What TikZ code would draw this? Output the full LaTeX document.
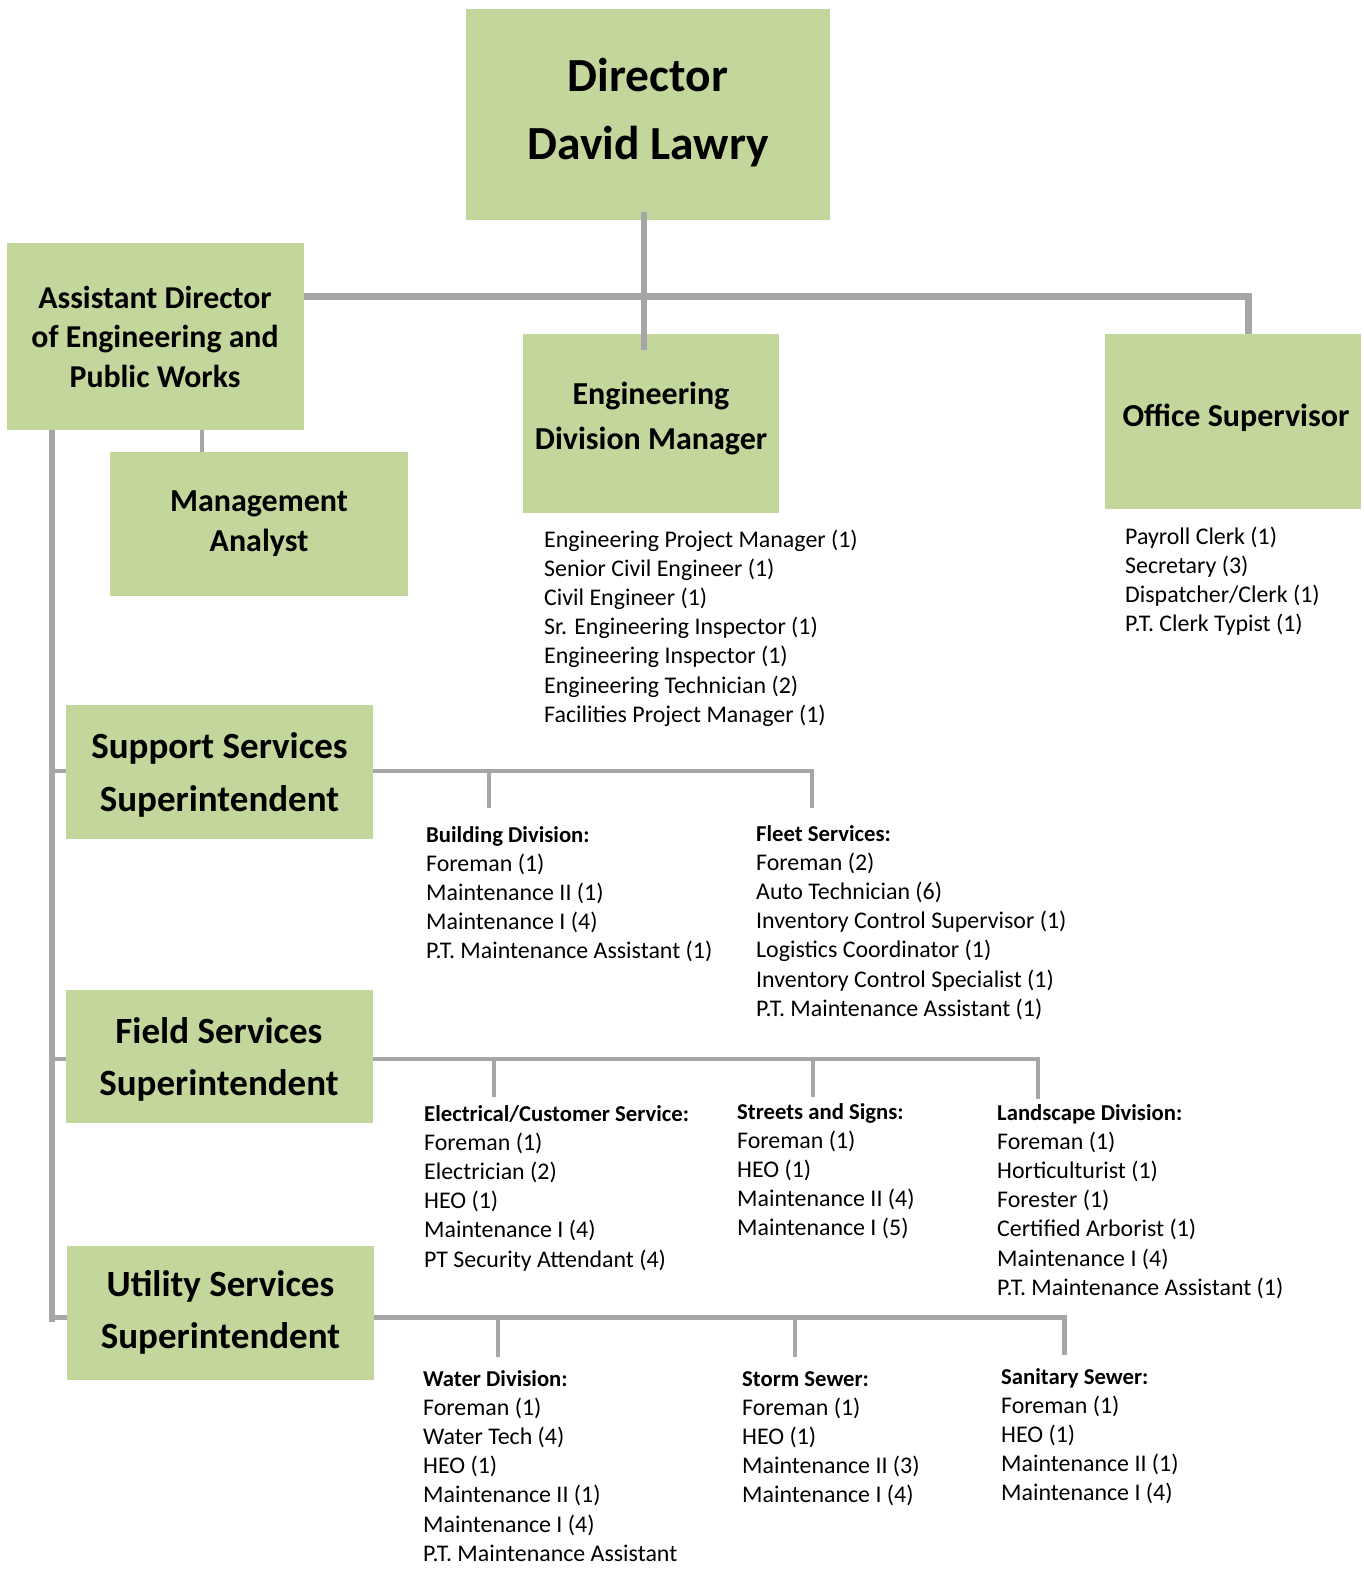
\documentclass[tikz,border=0pt]{standalone}
\usepackage{fontspec}
\setmainfont{Carlito}
\usetikzlibrary{calc}
\definecolor{boxgreen}{HTML}{C3D69B}
\definecolor{linegray}{HTML}{A6A6A6}
\newcommand\orgbox[5]{\node[box, minimum width=#4pt, minimum height=#5pt] (#1) at (#2,#3) {};}
\newcommand\orglist[5]{%
  \node[listhead] (#1h) at (#2,{#3+8}) {#4};
  \foreach \t [count=\i] in {#5} {\node[listtext] (#1\i) at (#2,{#3+8+29.2*\i}) {\t};}}
\newcommand\orgitems[4]{%
  \foreach \t [count=\i] in {#4} {\node[listtext] (#1\i) at (#2,{#3+8+29.2*(\i-1)}) {\t};}}
\begin{document}
\begin{tikzpicture}[x=1pt,y=-1pt,
  box/.style={fill=boxgreen, draw=none, inner sep=0, anchor=north west},
  conn/.style={draw=linegray, line width=4.5pt},
  mainconn/.style={draw=linegray, line width=7pt},
  listtext/.style={font=\fontsize{23.9}{29}\selectfont, anchor=base west, inner sep=0},
  listhead/.style={font=\bfseries\fontsize{22.7}{29}\selectfont, anchor=base west, inner sep=0},
  ttl/.style={align=center, inner sep=0, font=\bfseries\fontsize{32}{40}\selectfont},
  bigttl/.style={align=center, inner sep=0, font=\bfseries\fontsize{37}{52.5}\selectfont}
]
\useasboundingbox (0,0) rectangle (1364,1571);

% coordinates for connector junctions
\coordinate (spEnd) at (52,1322);
\coordinate (sCorner) at (812,771);
\coordinate (sDrop1) at (489,808);
\coordinate (sDrop2) at (812,808);
\coordinate (fCorner) at (1038,1059);
\coordinate (fDrop1) at (494,1097);
\coordinate (fDrop2) at (813,1097);
\coordinate (fDrop3) at (1038,1099);
\coordinate (uCorner) at (1064,1317);
\coordinate (uDrop1) at (498,1357);
\coordinate (uDrop2) at (795,1357);
\coordinate (uDrop3) at (1064,1355);
\coordinate (jTop) at (1248,296);
\coordinate (xDir) at (644,0);
\coordinate (xMA) at (202,0);

\orgbox{asst}{7}{243}{297}{187}

% lower connectors (behind boxes)
\draw[conn, line width=6pt] (asst.south -| spEnd) -- (spEnd);
\draw[conn] (spEnd |- sCorner) -- (sCorner) -- (sDrop2);
\draw[conn, line width=4pt] (sDrop1 |- sCorner) -- (sDrop1);
\draw[conn] (spEnd |- fCorner) -- (fCorner) -- (fDrop3);
\draw[conn, line width=4pt] (fDrop1 |- fCorner) -- (fDrop1);
\draw[conn, line width=4pt] (fDrop2 |- fCorner) -- (fDrop2);
\draw[conn, line width=5pt] (spEnd |- uCorner) -- (uCorner) -- (uDrop3);
\draw[conn, line width=4pt] (uDrop1 |- uCorner) -- (uDrop1);
\draw[conn, line width=4pt] (uDrop2 |- uCorner) -- (uDrop2);

% boxes
\orgbox{dir}{466}{9}{364}{211}
\orgbox{ma}{110}{452}{298}{144}
\orgbox{edm}{523}{334}{256}{179}
\orgbox{office}{1105}{334}{256}{175}
\orgbox{sup}{66}{705}{307}{134}
\orgbox{field}{66}{990}{307}{133}
\orgbox{util}{67}{1246}{307}{134}

% top connectors
\draw[mainconn] (asst.east |- jTop) -- (jTop) -- (office.north -| jTop);
\draw[mainconn, line width=6.5pt] ($(dir.south -| xDir)+(0,-8)$) -- ($(edm.north -| xDir)+(0,16)$);
\draw[conn, line width=4.5pt] (asst.south -| xMA) -- (ma.north -| xMA);

% titles
\node[ttl, font=\bfseries\fontsize{47.5}{68}\selectfont] (dirT) at (648,112.5) {Director\\David Lawry};
\node[ttl, font=\bfseries\fontsize{31.8}{39.5}\selectfont] (asstT) at (155,336.5) {Assistant Director\\of Engineering and\\Public Works};
\node[ttl] (maT) at (259,524) {Management\\Analyst};
\node[ttl, font=\bfseries\fontsize{32}{45}\selectfont] (edmT) at (651,418.5) {Engineering\\Division Manager};
\node[ttl] (officeT) at (1236,418) {Office Supervisor};
\node[bigttl] (supT) at (219.5,775) {Support Services\\Superintendent};
\node[bigttl] (fieldT) at (219,1059.5) {Field Services\\Superintendent};
\node[bigttl] (utilT) at (220.5,1312.5) {Utility Services\\Superintendent};

% lists
\orgitems{edmL}{544}{539}{Engineering Project Manager (1),Senior Civil Engineer (1),Civil Engineer (1),Sr. Engineering Inspector (1),Engineering Inspector (1),Engineering Technician (2),Facilities Project Manager (1)}
\orgitems{offL}{1125}{536}{Payroll Clerk (1),Secretary (3),Dispatcher/Clerk (1),P.T. Clerk Typist (1)}
\orglist{bd}{426}{834}{Building Division:}{Foreman (1),Maintenance II (1),Maintenance I (4),P.T. Maintenance Assistant (1)}
\orglist{fl}{756}{833}{Fleet Services:}{Foreman (2),Auto Technician (6),Inventory Control Supervisor (1),Logistics Coordinator (1),Inventory Control Specialist (1),P.T. Maintenance Assistant (1)}
\orglist{el}{424}{1113}{Electrical/Customer Service:}{Foreman (1),Electrician (2),HEO (1),Maintenance I (4),PT Security Attendant (4)}
\orglist{st}{737}{1111}{Streets and Signs:}{Foreman (1),HEO (1),Maintenance II (4),Maintenance I (5)}
\orglist{ls}{997}{1112}{Landscape Division:}{Foreman (1),Horticulturist (1),Forester (1),Certified Arborist (1),Maintenance I (4),P.T. Maintenance Assistant (1)}
\orglist{wd}{423}{1378}{Water Division:}{Foreman (1),Water Tech (4),HEO (1),Maintenance II (1),Maintenance I (4),P.T. Maintenance Assistant}
\orglist{ss}{742}{1378}{Storm Sewer:}{Foreman (1),HEO (1),Maintenance II (3),Maintenance I (4)}
\orglist{sa}{1001}{1376}{Sanitary Sewer:}{Foreman (1),HEO (1),Maintenance II (1),Maintenance I (4)}
\end{tikzpicture}
\end{document}
